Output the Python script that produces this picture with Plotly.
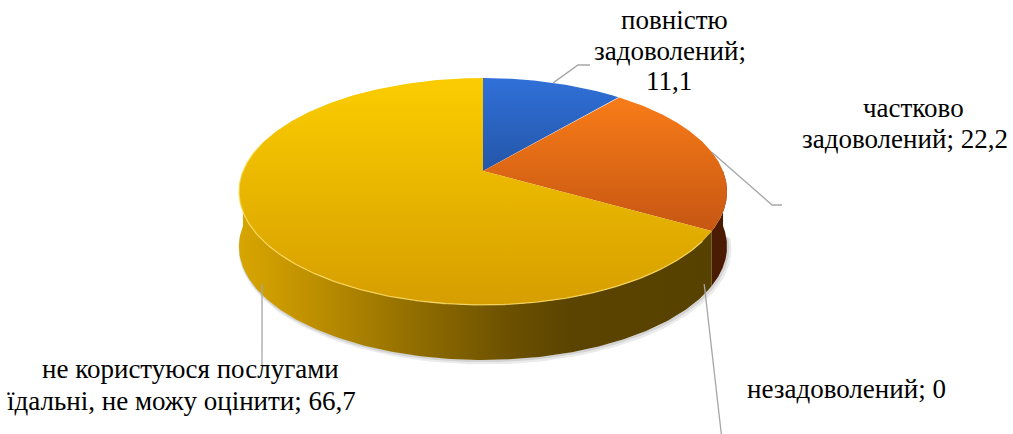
import textwrap
import numpy as np
import plotly.graph_objects as go

# ---------------- data ----------------
categories = [
    "повністю задоволений",
    "частково задоволений",
    "незадоволений",
    "не користуюся послугами їдальні, не можу оцінити",
]
values = [11.1, 22.2, 0, 66.7]

# ---------------- styling / layout ----------------
W, H = 1013, 434
top_colors = [("#3070D8", "#2456A8"), ("#F87C18", "#C65612"), ("#7A5A00", "#7A5A00"), ("#FBCD00", "#D69E00")]
wall_colors = [
    [[0, "#1E3F7A"], [1, "#152C58"]],
    [[0, "#6A2A08"], [1, "#4A1A03"]],
    [[0, "#5A4300"], [1, "#5A4300"]],
    [[0, "#D8A600"], [0.12, "#C49400"], [0.37, "#8F6C00"], [0.55, "#6C5100"], [0.68, "#5B4400"], [1, "#574100"]],
]
wrap_widths = [12, 17, 30, 30]
# per-line label centres (x) and line middles (y)
label_line_x = [[674, 670, 669], [913, 905], [846], [190, 181]]
label_line_y = [[20, 51, 81], [108, 139], [389], [369, 401]]
leader_elbows = [[(578, 65), (590, 65)], [(772, 205), (782, 205)], [(722, 440)], [(262, 366)]]
leader_on_wall = [False, False, True, True]
FONT = dict(family="Liberation Serif, Times New Roman, serif", size=27, color="#000000")

# projection of the tilted disc (perspective)
ALPHA = np.radians(27.2)
DIST = 4.92
FOC = 1181.0
CX, CY = 483.0, 171.0
DEPTH = 55.0  # wall thickness in screen units


def proj(theta, r=1.0, down=0.0):
    X = r * np.sin(theta)
    Z = r * np.cos(theta)
    yc = Z * np.sin(ALPHA)
    zc = DIST + Z * np.cos(ALPHA)
    return CX + FOC * X / zc, CY - FOC * yc / zc + down


fig = go.Figure()

total = sum(values)
bounds = np.cumsum([0] + values) / total * 2 * np.pi

# soft shadow under the front edge
for off, alpha, wid in [(2, 0.08, 5), (1, 0.10, 2.5)]:
    ts = np.linspace(np.radians(95), np.radians(265), 300)
    sx, sy = proj(ts, 1.0, DEPTH + off)
    fig.add_trace(go.Scatter(x=sx + off, y=sy, mode="lines", line=dict(color=f"rgba(0,0,0,{alpha})", width=wid),
                             hoverinfo="skip", showlegend=False))

xmin, xmax = proj(np.radians(259.6))[0], proj(np.radians(100.4))[0]

# walls (front half only)
for i, v in enumerate(values):
    if v <= 0:
        continue
    a0 = max(bounds[i], np.pi / 2)
    a1 = min(bounds[i + 1], 3 * np.pi / 2)
    if a1 <= a0:
        continue
    t = np.linspace(a0, a1, 200)
    x1, y1 = proj(t)
    x2, y2 = proj(t[::-1], 1.0, DEPTH)
    fig.add_trace(go.Scatter(
        x=np.concatenate([x1, x2, x1[:1]]), y=np.concatenate([y1, y2, y1[:1]]),
        mode="lines", fill="toself", line=dict(width=0),
        fillgradient=dict(type="horizontal", colorscale=wall_colors[i], start=xmin, stop=xmax),
        hoverinfo="skip", showlegend=False))

# top faces
for i, v in enumerate(values):
    if v <= 0:
        continue
    t = np.linspace(bounds[i], bounds[i + 1], 300)
    ax, ay = proj(t)
    xs = np.concatenate([[CX], ax, [CX]])
    ys = np.concatenate([[CY], ay, [CY]])
    c0, c1 = top_colors[i]
    fig.add_trace(go.Scatter(
        x=xs, y=ys, mode="lines", fill="toself", line=dict(width=0),
        fillgradient=dict(type="vertical", colorscale=[[0, c0], [1, c1]], start=ys.min(), stop=ys.max()),
        hoverinfo="skip", showlegend=False, name=categories[i]))

# light rim along the front top edge
tr = np.linspace(np.radians(125), np.radians(285), 300)
rx, ry = proj(tr)
fig.add_trace(go.Scatter(x=rx, y=ry, mode="lines", line=dict(color="rgba(255,226,110,0.75)", width=1.3),
                         hoverinfo="skip", showlegend=False))

# leader lines and labels
for i, v in enumerate(values):
    mid = (bounds[i] + bounds[i + 1]) / 2
    if leader_on_wall[i]:
        px, py = proj(mid, 0.97, DEPTH)
    else:
        px, py = proj(mid)
    lx = [px] + [p[0] for p in leader_elbows[i]]
    ly = [py] + [p[1] for p in leader_elbows[i]]
    fig.add_trace(go.Scatter(x=lx, y=ly, mode="lines", line=dict(color="#A6A6A6", width=1.3),
                             hoverinfo="skip", showlegend=False))
    val = f"{v:g}".replace(".", ",")
    lines = textwrap.wrap(f"{categories[i]}; {val}", wrap_widths[i])
    for k, line in enumerate(lines):
        fig.add_annotation(x=label_line_x[i][k], y=label_line_y[i][k], text=line, showarrow=False,
                           xanchor="center", yanchor="middle", align="center", font=FONT)

fig.update_xaxes(range=[0, W], visible=False, fixedrange=True)
fig.update_yaxes(range=[H, 0], visible=False, fixedrange=True)
fig.update_layout(width=W, height=H, margin=dict(l=0, r=0, t=0, b=0),
                  paper_bgcolor="white", plot_bgcolor="white", showlegend=False,
                  hovermode=False)

fig.write_html("out.html", config={"displayModeBar": False, "staticPlot": True},
               post_script="document.body.style.margin='0px';")
